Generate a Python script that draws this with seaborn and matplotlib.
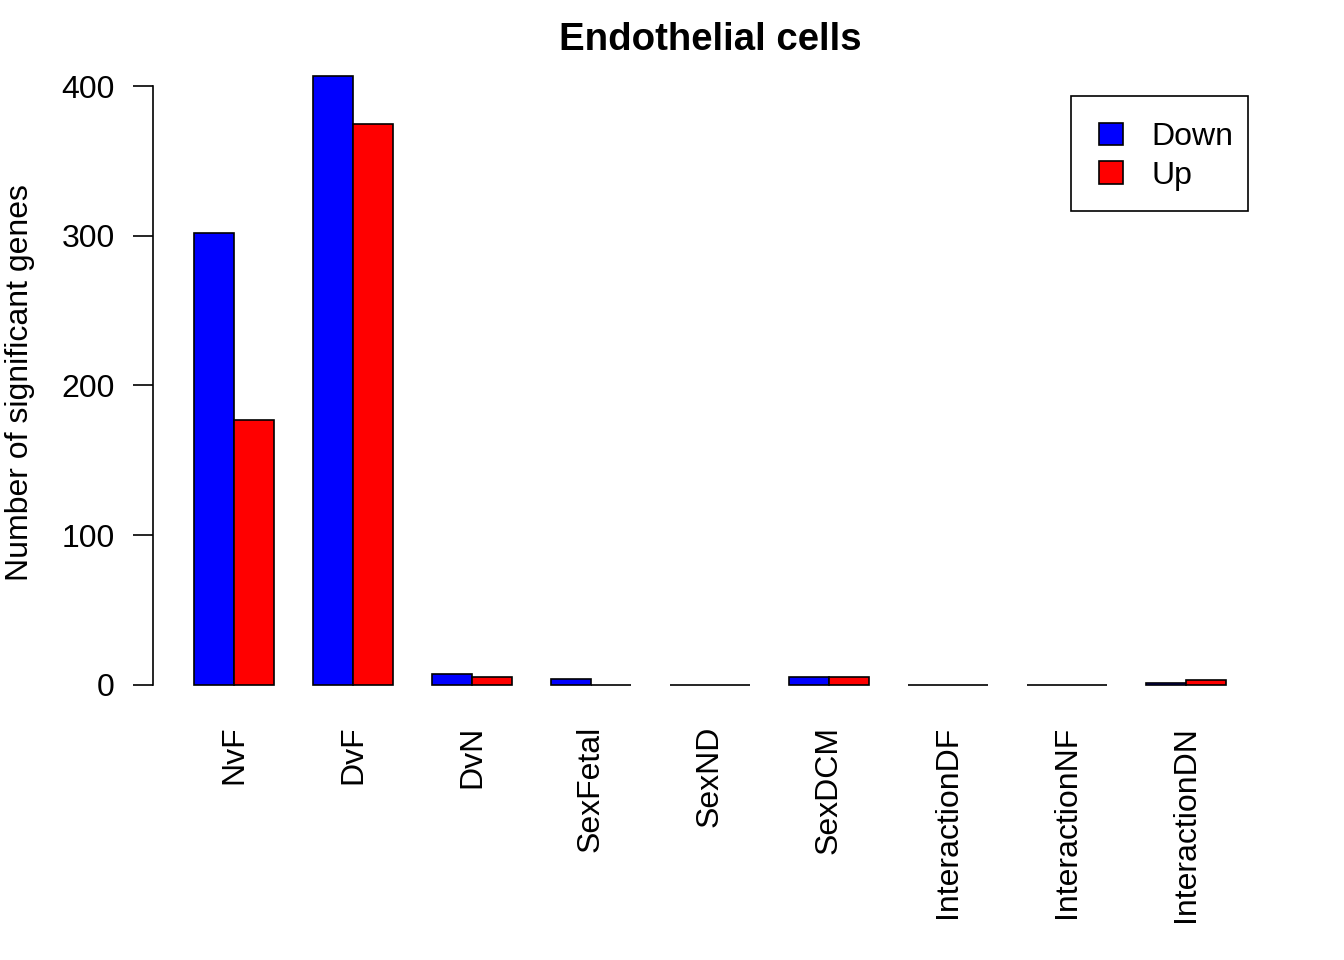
import seaborn as sns
import pandas as pd
import numpy as np
import matplotlib.pyplot as plt

contrasts = ["NvF", "DvF", "DvN", "SexFetal", "SexND", "SexDCM",
             "InteractionDF", "InteractionNF", "InteractionDN"]
down = [302, 407, 7, 4, 0, 5, 0, 0, 1]
up = [177, 375, 5, 0, 0, 5, 0, 0, 3]
directions = ["Down", "Up"]
colors = ["#0000FF", "#FF0000"]

df = pd.DataFrame({
    "contrast": contrasts * 2,
    "n": down + up,
    "direction": ["Down"] * len(contrasts) + ["Up"] * len(contrasts),
})

sns.set_style("white")
plt.rcParams["font.family"] = ["Liberation Sans", "DejaVu Sans"]
plt.rcParams["font.size"] = 23
plt.rcParams["text.color"] = "black"
plt.rcParams["xtick.color"] = "black"
plt.rcParams["ytick.color"] = "black"

fig = plt.figure(figsize=(13.44, 9.6), dpi=100)
ax = fig.add_axes([153 / 1344, 1 - 709 / 960, (1267 - 153) / 1344, (709 - 51.5) / 960])

sns.barplot(data=df, x="contrast", y="n", hue="direction", order=contrasts,
            hue_order=directions, palette=colors, width=2 / 3, gap=0,
            edgecolor="black", linewidth=1.2, saturation=1, ax=ax)

ax.set_xlim(-1 / 3 - 0.3467, 8 + 1 / 3 + 0.3467)
ax.set_ylim(-0.04 * 407, 407 * 1.04)
for s in ["top", "right", "bottom"]:
    ax.spines[s].set_visible(False)
ax.spines["left"].set_bounds(0, 400)
ax.spines["left"].set_color("black")
ax.spines["left"].set_linewidth(1.2)
ax.set_yticks([0, 100, 200, 300, 400])
ax.tick_params(axis="y", direction="out", length=14.4, width=1.2, pad=13,
               left=True, labelsize=23, colors="black")
ax.tick_params(axis="x", length=0, pad=12, labelsize=23, labelrotation=90,
               colors="black")
for lab in ax.get_xticklabels():
    lab.set_va("top")
ax.set_xlabel("")
ax.set_ylabel("")
fig.text(20 / 1344, 1 - 383 / 960, "Number of significant genes", rotation=90,
         ha="center", va="center", fontsize=23, color="black")
fig.text(710 / 1344, 1 - 40 / 960, "Endothelial cells", ha="center", va="center",
         fontsize=27.6, fontweight="bold", color="black")

# legend box like base R
ax.get_legend().remove()
fig.patches.append(plt.Rectangle((1071 / 1344, 1 - 211 / 960), 177 / 1344, 115 / 960,
                                 transform=fig.transFigure, facecolor="white",
                                 edgecolor="black", linewidth=1.2))
handles = [plt.Rectangle((0, 0), 1, 1, facecolor=c, edgecolor="black", linewidth=1.2)
           for c in colors]
leg = fig.legend(handles, directions, loc="upper left",
                 bbox_to_anchor=(1099 / 1344, 1 - 122 / 960),
                 bbox_transform=fig.transFigure, fontsize=23, frameon=False,
                 handlelength=0.75, handleheight=0.7, handletextpad=0.9,
                 borderpad=0, labelspacing=0.27, borderaxespad=0)

fig.savefig("out.png", dpi=100)
